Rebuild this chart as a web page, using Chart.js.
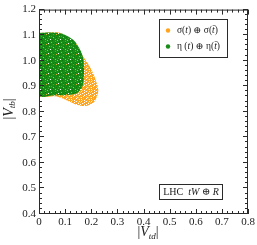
<!DOCTYPE html>
<html>
<head>
<meta charset="utf-8">
<script src="https://cdn.jsdelivr.net/npm/chart.js@4.4.1/dist/chart.umd.min.js"></script>
<style>
  body { margin: 0; background: #fff; }
</style>
</head>
<body>
<canvas id="c" width="257" height="245"></canvas>
<script>
// axis ticks
var xTicks = [0, 0.1, 0.2, 0.3, 0.4, 0.5, 0.6, 0.7, 0.8];
var xTickLabels = ["0", "0.1", "0.2", "0.3", "0.4", "0.5", "0.6", "0.7", "0.8"];
var yTicks = [0.4, 0.5, 0.6, 0.7, 0.8, 0.9, 1.0, 1.1, 1.2];
var yTickLabels = ["0.4", "0.5", "0.6", "0.7", "0.8", "0.9", "1.0", "1.1", "1.2"];

// outline of the sigma(t)+sigma(tbar) allowed region (orange scan)
var orangeX = [0, 0.040, 0.080, 0.103, 0.126, 0.157, 0.184, 0.203, 0.218, 0.227, 0.222, 0.211, 0.188, 0.165, 0.138, 0.111, 0.088, 0.061, 0, 0];
var orangeY = [1.108, 1.110, 1.109, 1.090, 1.063, 1.032, 0.994, 0.960, 0.922, 0.886, 0.861, 0.838, 0.825, 0.823, 0.830, 0.842, 0.853, 0.861, 0.865, 1.108];

// outline of the eta(t)+eta(tbar) allowed region (green scan)
var greenX = [0, 0.042, 0.073, 0.096, 0.115, 0.134, 0.149, 0.161, 0.169, 0.172, 0.172, 0.169, 0.161, 0.145, 0.119, 0.061, 0, 0];
var greenY = [1.108, 1.110, 1.108, 1.103, 1.093, 1.079, 1.058, 1.036, 1.010, 0.979, 0.941, 0.910, 0.888, 0.873, 0.867, 0.865, 0.865, 1.108];

var legendLabels = ["σ(t) ⊕ σ(t̄)", "η (t) ⊕ η(t̄)"];
var orange = "#ffa41c";
var green = "#178c17";

function toPoints(xs, ys) {
  var pts = [];
  for (var i = 0; i < xs.length; i++) pts.push({ x: xs[i], y: ys[i] });
  return pts;
}

// speckled fill, like the dense scatter of scan points
function makePattern(rows, colors) {
  var t = document.createElement("canvas");
  t.width = rows[0].length;
  t.height = rows.length;
  var tc = t.getContext("2d");
  for (var r = 0; r < rows.length; r++) {
    for (var k = 0; k < rows[r].length; k++) {
      tc.fillStyle = colors[rows[r][k]];
      tc.fillRect(k, r, 1, 1);
    }
  }
  return document.getElementById("c").getContext("2d").createPattern(t, "repeat");
}

var orangeFill = makePattern([
  "oolowooloo",
  "owooolwoow",
  "looowooolo",
  "oowloooowo",
  "wooolowooo",
  "oloowooolw",
  "ooowoolooo",
  "lwooooowlo",
  "oooloowooo",
  "owoooloolw"
], { o: orange, l: "#ffc35a", w: "#ffffff" });

var greenFill = makePattern([
  "ggdggggogg",
  "ggggglgggd",
  "gogggdgggg",
  "gggdggggwg",
  "dgglggoggg",
  "gggggggdgg",
  "glggdggggo",
  "gggoggdggg",
  "ggdggggglg",
  "wggggoggdg"
], { g: green, d: "#0f7a0f", l: "#4aa83a", o: "#e6a020", w: "#ffffff" });

var serif = "'Liberation Serif', 'DejaVu Serif', serif";

function drawParts(ctx, parts, x, y) {
  for (var i = 0; i < parts.length; i++) {
    var p = parts[i];
    ctx.font = p.f;
    ctx.fillText(p.t, x, y + (p.dy || 0));
    x += ctx.measureText(p.t).width;
  }
  return x;
}

function partsWidth(ctx, parts) {
  var w = 0;
  for (var i = 0; i < parts.length; i++) {
    ctx.font = parts[i].f;
    w += ctx.measureText(parts[i].t).width;
  }
  return w;
}

var decorations = {
  id: "decorations",
  afterDraw: function (chart) {
    var ctx = chart.ctx;
    var a = chart.chartArea;
    var xs = chart.scales.x, ys = chart.scales.y;
    ctx.save();
    ctx.strokeStyle = "#2a2a2a";
    ctx.lineWidth = 1;
    ctx.strokeRect(a.left + 0.5, a.top + 0.5, a.right - a.left - 1, a.bottom - a.top - 1);

    // inward ticks on all four sides, minor every 0.02
    ctx.beginPath();
    for (var i = 0; i <= 40; i++) {
      var len = i % 5 === 0 ? 5 : 3;
      var px = Math.round(xs.getPixelForValue(i * 0.02)) + 0.5;
      ctx.moveTo(px, a.bottom); ctx.lineTo(px, a.bottom - len);
      ctx.moveTo(px, a.top); ctx.lineTo(px, a.top + len);
      var py = Math.round(ys.getPixelForValue(0.4 + i * 0.02)) - 0.5;
      ctx.moveTo(a.left, py); ctx.lineTo(a.left + len, py);
      ctx.moveTo(a.right, py); ctx.lineTo(a.right - len, py);
    }
    ctx.stroke();

    // legend box
    ctx.fillStyle = "#fff";
    ctx.fillRect(159.5, 19.5, 68, 38);
    ctx.strokeRect(159.5, 19.5, 68, 38);
    ctx.fillStyle = orange;
    ctx.beginPath(); ctx.arc(168, 30.5, 2.2, 0, Math.PI * 2); ctx.fill();
    ctx.fillStyle = green;
    ctx.beginPath(); ctx.arc(168, 46.5, 2.2, 0, Math.PI * 2); ctx.fill();

    var f = "9.5px " + serif, fi = "italic 9.5px " + serif;
    ctx.fillStyle = "#222";
    ctx.textBaseline = "middle";
    ctx.textAlign = "left";
    drawParts(ctx, [
      { t: "σ(", f: f }, { t: "t", f: fi }, { t: ") ⊕ σ(", f: f }, { t: "t̄", f: fi }, { t: ")", f: f }
    ], 177, 30.5);
    drawParts(ctx, [
      { t: "η (", f: f }, { t: "t", f: fi }, { t: ") ⊕ η(", f: f }, { t: "t̄", f: fi }, { t: ")", f: f }
    ], 177, 46.5);

    // process label
    ctx.fillStyle = "#fff";
    ctx.fillRect(159.5, 184.5, 63, 15);
    ctx.strokeRect(159.5, 184.5, 63, 15);
    ctx.fillStyle = "#222";
    var g = "10px " + serif, gi = "italic 10px " + serif;
    var lhc = [{ t: "LHC  ", f: g }, { t: "tW", f: gi }, { t: " ⊕ ", f: g }, { t: "R", f: gi }];
    drawParts(ctx, lhc, 191 - partsWidth(ctx, lhc) / 2, 192.5);

    // axis titles
    var h = "14px " + serif, hi = "italic 14px " + serif, hs = "italic 9px " + serif;
    var xt = [{ t: "|", f: h }, { t: "V", f: hi }, { t: "td", f: hs, dy: 4 }, { t: "|", f: h }];
    drawParts(ctx, xt, 148 - partsWidth(ctx, xt) / 2, 232.5);

    var yt = [{ t: "|", f: h }, { t: "V", f: hi }, { t: "tb", f: hs, dy: 4 }, { t: "|", f: h }];
    ctx.translate(9, 109);
    ctx.rotate(-Math.PI / 2);
    drawParts(ctx, yt, -partsWidth(ctx, yt) / 2, 0);
    ctx.restore();
  }
};

new Chart(document.getElementById("c"), {
  type: "line",
  data: {
    datasets: [
      {
        label: legendLabels[1],
        data: toPoints(greenX, greenY),
        fill: "shape",
        backgroundColor: greenFill,
        borderWidth: 0,
        pointRadius: 0,
        tension: 0.3
      },
      {
        label: legendLabels[0],
        data: toPoints(orangeX, orangeY),
        fill: "shape",
        backgroundColor: orangeFill,
        borderWidth: 0,
        pointRadius: 0,
        tension: 0.3
      }
    ]
  },
  options: {
    responsive: false,
    animation: false,
    devicePixelRatio: 1,
    layout: { padding: { top: 4, right: 9, left: 0, bottom: 0 } },
    plugins: { legend: { display: false }, tooltip: { enabled: false } },
    scales: {
      x: {
        type: "linear",
        min: 0,
        max: 0.8,
        afterBuildTicks: function (s) { s.ticks = xTicks.map(function (v) { return { value: v }; }); },
        afterFit: function (s) { s.height = 31; },
        grid: { display: false, drawTicks: false },
        border: { display: false },
        ticks: {
          padding: 2,
          color: "#222",
          font: { family: serif, size: 11 },
          maxRotation: 0,
          autoSkip: false,
          callback: function (v, i) { return xTickLabels[i]; }
        }
      },
      y: {
        type: "linear",
        min: 0.4,
        max: 1.2,
        afterBuildTicks: function (s) { s.ticks = yTicks.map(function (v) { return { value: v }; }); },
        afterFit: function (s) { s.width = 39; },
        grid: { display: false, drawTicks: false },
        border: { display: false },
        ticks: {
          padding: 3,
          color: "#222",
          font: { family: serif, size: 11 },
          autoSkip: false,
          callback: function (v, i) { return yTickLabels[i]; }
        }
      }
    }
  },
  plugins: [decorations]
});
</script>
</body>
</html>
